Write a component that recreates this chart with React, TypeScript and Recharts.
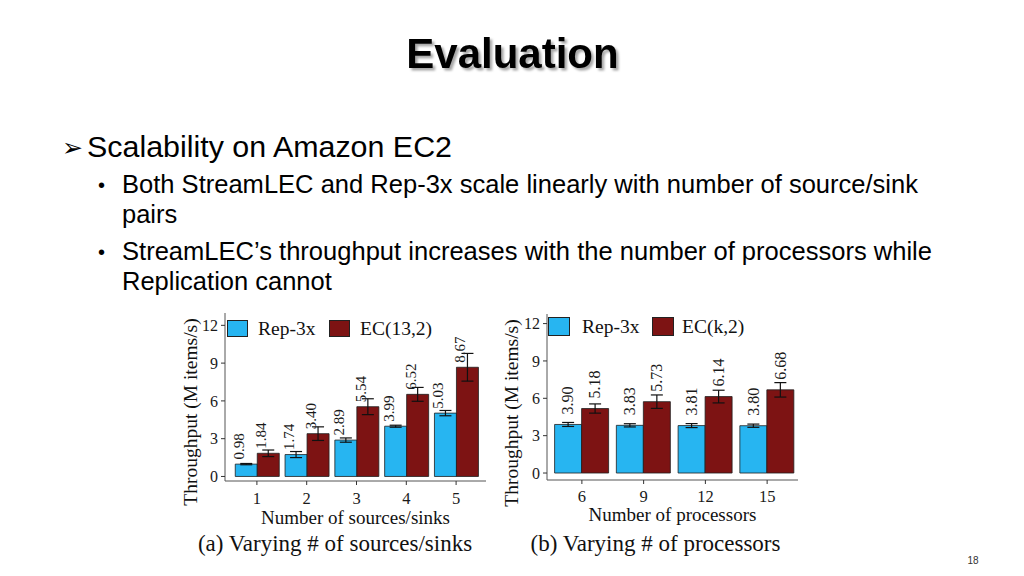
import React from 'react';
import { BarChart, Bar, XAxis, YAxis, ErrorBar, LabelList, Legend } from 'recharts';

// ---------- data ----------
const sourceCategories = ['1', '2', '3', '4', '5'];
const sourceRep = [0.98, 1.74, 2.89, 3.99, 5.03];
const sourceEC = [1.84, 3.4, 5.54, 6.52, 8.67];
const sourceRepErr = [0.05, 0.24, 0.17, 0.08, 0.21];
const sourceECErr = [0.26, 0.54, 0.63, 0.55, 1.1];

const procCategories = ['6', '9', '12', '15'];
const procRep = [3.9, 3.83, 3.81, 3.8];
const procEC = [5.18, 5.73, 6.14, 6.68];
const procRepErr = [0.16, 0.13, 0.16, 0.13];
const procECErr = [0.37, 0.54, 0.51, 0.58];

const yTicks = [0, 3, 6, 9, 12];

const sourceData = sourceCategories.map((c, i) => ({
  cat: c, rep: sourceRep[i], ec: sourceEC[i], repErr: sourceRepErr[i], ecErr: sourceECErr[i],
}));
const procData = procCategories.map((c, i) => ({
  cat: c, rep: procRep[i], ec: procEC[i], repErr: procRepErr[i], ecErr: procECErr[i],
}));

// ---------- styles ----------
const BLUE = '#27b5f1';
const RED = '#7d1313';
const BOX = '#555';
const SERIF = '"Liberation Serif", "Times New Roman", serif';
const SANS = '"Liberation Sans", Arial, sans-serif';

const makeValueLabel = (dxBase: number, gap: number, fontSize: number) => (props: any) => {
  const vb = props.viewBox || {};
  const bx = Number(props.x ?? vb.x);
  const by = Number(props.y ?? vb.y);
  const bw = Number(props.width ?? vb.width);
  const px = bx + bw / 2 + dxBase;
  const py = by - gap;
  return (
    <text x={px} y={py} transform={`rotate(-90 ${px} ${py})`} textAnchor="start"
      fontSize={fontSize} fontFamily={SERIF} fill="#1a1a1a">
      {Number(props.value).toFixed(2)}
    </text>
  );
};

const makeYTitle = (shift: number) => (props: any) => {
  const vb = props.viewBox;
  const x = vb.x + vb.width / 2;
  const y = vb.y + vb.height / 2 + shift;
  return (
    <text x={x} y={y} transform={`rotate(-90 ${x} ${y})`} textAnchor="middle" dominantBaseline="central"
      fontFamily={SERIF} fontSize={19.5} fill="#111">
      Throughput (M items/s)
    </text>
  );
};

const makeXTitle = (text: string, baseOffset: number) => (props: any) => {
  const vb = props.viewBox;
  const x = vb.x + vb.width / 2;
  const y = vb.y + baseOffset;
  return (
    <text x={x} y={y} textAnchor="middle" fontFamily={SERIF} fontSize={19} fill="#111">{text}</text>
  );
};

const makeLegend = (ecName: string, sq: { w: number; h: number }, offs: number[]) => () => (
  <div style={{ position: 'relative', width: 230, height: sq.h + 2, fontFamily: SERIF, fontSize: 19.5, color: '#111' }}>
    <div style={{ position: 'absolute', left: offs[0], top: 0, width: sq.w, height: sq.h, background: BLUE, border: '1px solid #222', boxSizing: 'border-box' }} />
    <div style={{ position: 'absolute', left: offs[1], top: 0, height: sq.h, lineHeight: `${sq.h}px`, whiteSpace: 'nowrap' }}>Rep-3x</div>
    <div style={{ position: 'absolute', left: offs[2], top: 0, width: sq.w, height: sq.h, background: RED, border: '1px solid #222', boxSizing: 'border-box' }} />
    <div style={{ position: 'absolute', left: offs[3], top: 0, height: sq.h, lineHeight: `${sq.h}px`, whiteSpace: 'nowrap' }}>{ecName}</div>
  </div>
);

type ChartProps = {
  data: any[];
  left: number; top: number; width: number; height: number;
  margin: { top: number; right: number; bottom: number; left: number };
  yAxisWidth: number; xAxisHeight: number;
  domain: [number, number];
  xPadding: { left: number; right: number };
  catGap: number;
  xTitle: string; ecName: string;
  tickMarginX: number;
  labelDx: [number, number]; labelGap: number; labelFont: number;
  legendPos: { left: number; top: number };
  legendSq: { w: number; h: number };
  legendOffs: number[];
  yTitleShift: number;
  xTitleBase: number;
};

function ThroughputChart(p: ChartProps) {
  return (
    <div style={{ position: 'absolute', left: p.left, top: p.top, width: p.width, height: p.height }}>
      <BarChart width={p.width} height={p.height} data={p.data} margin={p.margin}
        barCategoryGap={p.catGap} barGap={0}>
        <XAxis dataKey="cat" type="category" padding={p.xPadding} height={p.xAxisHeight}
          axisLine={{ stroke: BOX, strokeWidth: 1 }} tickLine={{ stroke: '#333' }} tickSize={4}
          tickMargin={p.tickMarginX} interval={0}
          tick={{ fontFamily: SERIF, fontSize: 16.5, fill: '#1a1a1a' }}
          label={{ content: makeXTitle(p.xTitle, p.xTitleBase) }} />
        <XAxis xAxisId="top" dataKey="cat" orientation="top" height={0} tick={false} tickLine={false}
          axisLine={{ stroke: BOX, strokeWidth: 1 }} />
        <YAxis type="number" domain={p.domain} allowDataOverflow ticks={yTicks} interval={0}
          width={p.yAxisWidth} axisLine={{ stroke: BOX, strokeWidth: 1 }} tickLine={{ stroke: '#333' }}
          tickSize={4} tickMargin={3}
          tick={{ fontFamily: SERIF, fontSize: 16, fill: '#1a1a1a' }}
          label={{ content: makeYTitle(p.yTitleShift) }} />
        <YAxis yAxisId="right" orientation="right" type="number" domain={p.domain} allowDataOverflow
          width={0} tick={false} tickLine={false} axisLine={{ stroke: BOX, strokeWidth: 1 }} />
        <Legend layout="horizontal" verticalAlign="middle" align="center"
          wrapperStyle={{ left: p.legendPos.left, top: p.legendPos.top, width: 240 }}
          content={makeLegend(p.ecName, p.legendSq, p.legendOffs)} />
        <Bar dataKey="rep" name="Rep-3x" fill={BLUE} stroke="#1f1f1f" strokeWidth={0.8} isAnimationActive={false}>
          <ErrorBar dataKey="repErr" width={6} stroke="#111" strokeWidth={1.2} direction="y" isAnimationActive={false} />
          <LabelList dataKey="rep" content={makeValueLabel(p.labelDx[0], p.labelGap, p.labelFont)} />
        </Bar>
        <Bar dataKey="ec" name={p.ecName} fill={RED} stroke="#1f1f1f" strokeWidth={0.8} isAnimationActive={false}>
          <ErrorBar dataKey="ecErr" width={6} stroke="#111" strokeWidth={1.2} direction="y" isAnimationActive={false} />
          <LabelList dataKey="ec" content={makeValueLabel(p.labelDx[1], p.labelGap, p.labelFont)} />
        </Bar>
      </BarChart>
    </div>
  );
}

export default function App() {
  return (
    <div style={{ position: 'absolute', left: 0, top: 0, width: 1024, height: 576, background: '#fff', overflow: 'hidden' }}>
      <svg width={1024} height={576} style={{ position: 'absolute', left: 0, top: 0 }}>
        <defs>
          <filter id="titleShadow" x="-10%" y="-20%" width="130%" height="160%">
            <feDropShadow dx="2.5" dy="2.5" stdDeviation="1.2" floodColor="#000" floodOpacity="0.35" />
          </filter>
        </defs>
        <text x={512.5} y={68} textAnchor="middle" fontFamily={SANS} fontWeight="bold" fontSize={42}
          fill="#000" filter="url(#titleShadow)">Evaluation</text>
        <text x={62} y={156} fontFamily='"DejaVu Sans", sans-serif' fontSize={25} fill="#000">➢</text>
        <text x={87} y={157} fontFamily={SANS} fontSize={29.5} fill="#000" textLength={365} lengthAdjust="spacingAndGlyphs">Scalability on Amazon EC2</text>
        <text x={98} y={192} fontFamily={SANS} fontSize={20} fill="#000">•</text>
        <text x={122} y={193} fontFamily={SANS} fontSize={25.5} fill="#000" textLength={796} lengthAdjust="spacingAndGlyphs">Both StreamLEC and Rep-3x scale linearly with number of source/sink</text>
        <text x={122} y={223} fontFamily={SANS} fontSize={25.5} fill="#000">pairs</text>
        <text x={98} y={259} fontFamily={SANS} fontSize={20} fill="#000">•</text>
        <text x={122} y={260} fontFamily={SANS} fontSize={25.5} fill="#000" textLength={810} lengthAdjust="spacingAndGlyphs">StreamLEC’s throughput increases with the number of processors while</text>
        <text x={122} y={290} fontFamily={SANS} fontSize={25.5} fill="#000">Replication cannot</text>
        <text x={335} y={551} textAnchor="middle" fontFamily={SERIF} fontSize={23} fill="#111">(a) Varying # of sources/sinks</text>
        <text x={655.5} y={551} textAnchor="middle" fontFamily={SERIF} fontSize={23} fill="#111">(b) Varying # of processors</text>
        <text x={973} y={564} textAnchor="middle" fontFamily={SANS} fontSize={10} fill="#333">18</text>
      </svg>

      <ThroughputChart
        data={sourceData}
        left={155} top={300} width={335} height={234}
        margin={{ top: 13, right: 4, bottom: 7, left: 0 }}
        yAxisWidth={70} xAxisHeight={46}
        domain={[-0.36, 12.98]}
        xPadding={{ left: 7, right: 5 }}
        catGap={3.25}
        xTitle="Number of sources/sinks" ecName="EC(13,2)"
        tickMarginX={7}
        labelDx={[-2, -2]} labelGap={4.5} labelFont={15}
        legendPos={{ left: 72, top: 20 }}
        legendSq={{ w: 21, h: 17 }}
        legendOffs={[0, 31, 102, 133]}
        yTitleShift={15}
        xTitleBase={43}
      />
      <ThroughputChart
        data={procData}
        left={475} top={300} width={330} height={234}
        margin={{ top: 14, right: 7, bottom: 8, left: 0 }}
        yAxisWidth={72} xAxisHeight={46}
        domain={[-0.56, 12.77]}
        xPadding={{ left: 4, right: 0 }}
        catGap={3.6}
        xTitle="Number of processors" ecName="EC(k,2)"
        tickMarginX={6}
        labelDx={[5.4, 5.4]} labelGap={10} labelFont={16}
        legendPos={{ left: 73, top: 17 }}
        legendSq={{ w: 22, h: 19 }}
        legendOffs={[0, 34, 104, 134]}
        yTitleShift={16}
        xTitleBase={41}
      />
    </div>
  );
}
